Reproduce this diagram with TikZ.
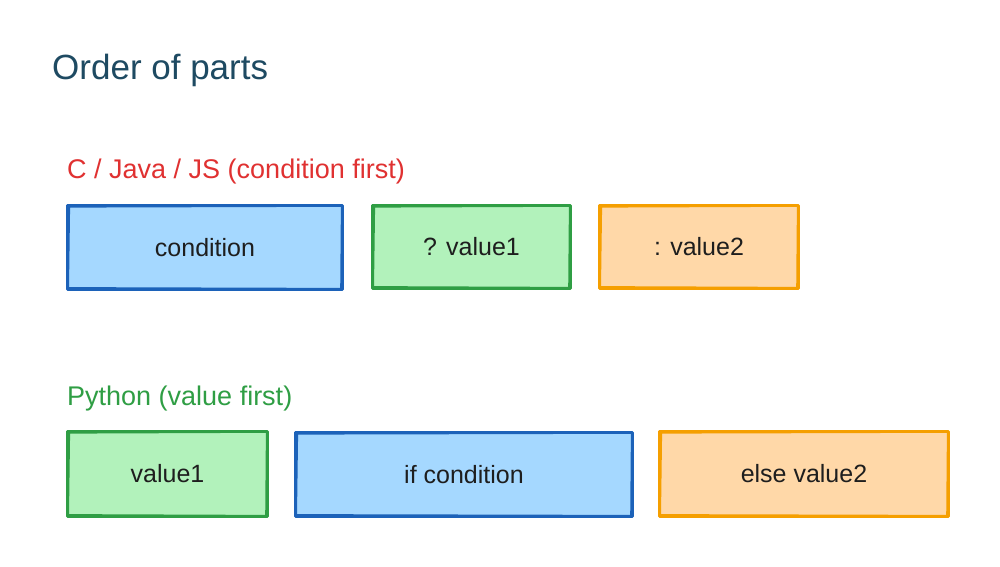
\documentclass[tikz,border=0pt]{standalone}
\usepackage{fontspec}
\setmainfont{Liberation Sans}
\definecolor{titlec}{HTML}{1E4A62}
\definecolor{redc}{HTML}{E03131}
\definecolor{greenc}{HTML}{2F9E44}
\definecolor{greenf}{HTML}{B2F2BB}
\definecolor{bluec}{HTML}{1C62B9}
\definecolor{bluef}{HTML}{A5D8FF}
\definecolor{orangec}{HTML}{F59F00}
\definecolor{orangef}{HTML}{FFD8A8}
\definecolor{textc}{HTML}{1E1E1E}
\tikzset{
  part/.style={draw=#1c, fill=#1f, line width=3pt, line join=round,
    inner sep=0pt, anchor=north west, text=textc,
    font=\fontsize{25}{29}\selectfont},
  rough/.style={draw=#1c, line width=1.2pt, line cap=round},
  heading/.style={anchor=west, inner sep=0pt, font=\fontsize{27}{32}\selectfont},
}
\newcommand{\roughbox}[2]{%
  \draw[rough=#2] ([shift={(3.5,3)}]#1.north west) -- ([shift={(-2.5,2.2)}]#1.north east)
    -- ([shift={(-3.2,-2.5)}]#1.south east) -- ([shift={(2.4,-3.3)}]#1.south west) -- cycle;}
\begin{document}
\begin{tikzpicture}[x=1pt,y=-1pt]
\useasboundingbox[fill=white] (0,0) rectangle (1000,566);
\node[anchor=west, inner sep=0pt, text=titlec, font=\fontsize{35}{40}\selectfont] (title) at (52,70) {Order of parts};
\node[heading, text=redc] (clabel) at (67,172) {C / Java / JS (condition first)};
\node[heading, text=greenc] (pylabel) at (67,399) {Python (value first)};
% C row
\node[part=blue, minimum width=275pt, minimum height=84pt] (cond) at (66,204) {condition};
\node[part=green, minimum width=198pt, minimum height=83pt] (v1) at (371,204) {? value1};
\node[part=orange, minimum width=199pt, minimum height=83pt] (v2) at (598,204) {: value2};
% Python row
\node[part=green, minimum width=200pt, minimum height=85pt] (pv1) at (66,430) {value1};
\node[part=blue, minimum width=337pt, minimum height=84pt] (pcond) at (294,431) {if condition};
\node[part=orange, minimum width=289pt, minimum height=85pt] (pv2) at (658,430) {else value2};
\roughbox{cond}{blue}
\roughbox{v1}{green}
\roughbox{v2}{orange}
\roughbox{pv1}{green}
\roughbox{pcond}{blue}
\roughbox{pv2}{orange}
\end{tikzpicture}
\end{document}
